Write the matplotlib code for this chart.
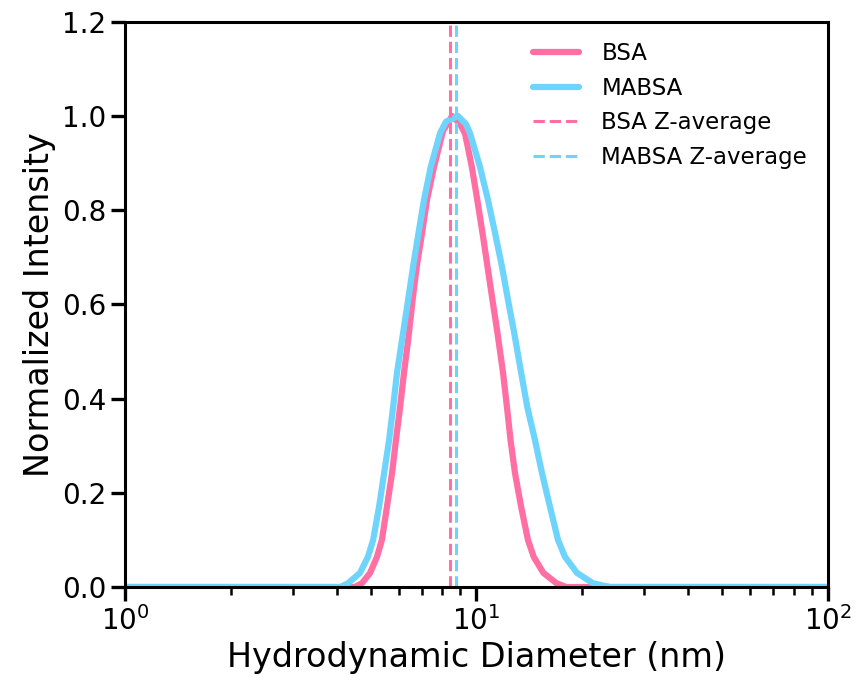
import matplotlib
matplotlib.use("Agg")
import matplotlib.pyplot as plt

# BSA size distribution
bsa_d = [1.0, 4.5, 4.72, 4.98, 5.21, 5.38, 5.56, 5.75, 5.90, 6.06, 6.22, 6.39,
         6.58, 6.76, 7.00, 7.23, 7.57, 8.03, 8.52, 8.98, 9.28, 9.70, 10.05,
         10.40, 10.75, 11.10, 11.47, 11.90, 12.21, 12.50, 12.87, 13.40, 14.01,
         14.55, 15.5, 16.9, 18.0, 100.0]
bsa_i = [0.0, 0.0, 0.008, 0.030, 0.064, 0.100, 0.170, 0.242, 0.312, 0.382, 0.455,
         0.525, 0.610, 0.680, 0.752, 0.822, 0.892, 0.968, 1.0, 0.983, 0.962, 0.892,
         0.822, 0.752, 0.680, 0.610, 0.540, 0.455, 0.382, 0.312, 0.242, 0.170,
         0.100, 0.064, 0.030, 0.008, 0.0, 0.0]

# MABSA size distribution
mabsa_d = [1.0, 4.1, 4.31, 4.66, 4.91, 5.08, 5.28, 5.46, 5.64, 5.79, 5.94, 6.14,
           6.39, 6.60, 6.84, 7.09, 7.41, 7.88, 8.19, 8.86, 9.33, 9.58, 10.23,
           10.78, 11.29, 11.82, 12.29, 12.80, 13.40, 13.95, 14.67, 15.36, 16.19,
           17.06, 17.86, 19.32, 21.45, 23.98, 100.0]
mabsa_i = [0.0, 0.0, 0.008, 0.030, 0.064, 0.100, 0.170, 0.242, 0.312, 0.382, 0.455,
           0.525, 0.610, 0.680, 0.752, 0.822, 0.892, 0.964, 0.988, 1.0, 0.983,
           0.964, 0.892, 0.822, 0.752, 0.680, 0.610, 0.540, 0.455, 0.382, 0.312,
           0.242, 0.170, 0.100, 0.064, 0.030, 0.008, 0.0, 0.0]

# Z-averages (nm)
bsa_z = 8.41
mabsa_z = 8.74

pink = "#ff6fa3"
blue = "#6fd4fb"

fig = plt.figure(figsize=(8.57, 6.81), dpi=100)
ax = fig.add_axes([0.146, 0.138, 0.820, 0.830])

ax.plot(bsa_d, bsa_i, color=pink, lw=4.5, label="BSA", solid_capstyle="round")
ax.plot(mabsa_d, mabsa_i, color=blue, lw=4.5, label="MABSA", solid_capstyle="round")
ax.axvline(bsa_z, color=pink, ls="--", lw=2.2, label="BSA Z-average")
ax.axvline(mabsa_z, color=blue, ls="--", lw=2.2, label="MABSA Z-average")

ax.set_xscale("log")
ax.set_xlim(1, 100)
ax.set_ylim(0, 1.2)
ax.set_yticks([0.0, 0.2, 0.4, 0.6, 0.8, 1.0, 1.2])
ax.set_yticklabels(["0.0", "0.2", "0.4", "0.6", "0.8", "1.0", "1.2"])

ax.set_xlabel("Hydrodynamic Diameter (nm)", fontsize=24)
ax.set_ylabel("Normalized Intensity", fontsize=24)

for s in ax.spines.values():
    s.set_linewidth(2.2)
ax.tick_params(which="major", length=10, width=2.4, labelsize=20)
ax.tick_params(which="minor", length=6, width=1.8)

ax.legend(loc="upper right", frameon=False, fontsize=16.5,
          handlelength=2.0, handletextpad=1.0)

fig.savefig("out.png", dpi=100)
